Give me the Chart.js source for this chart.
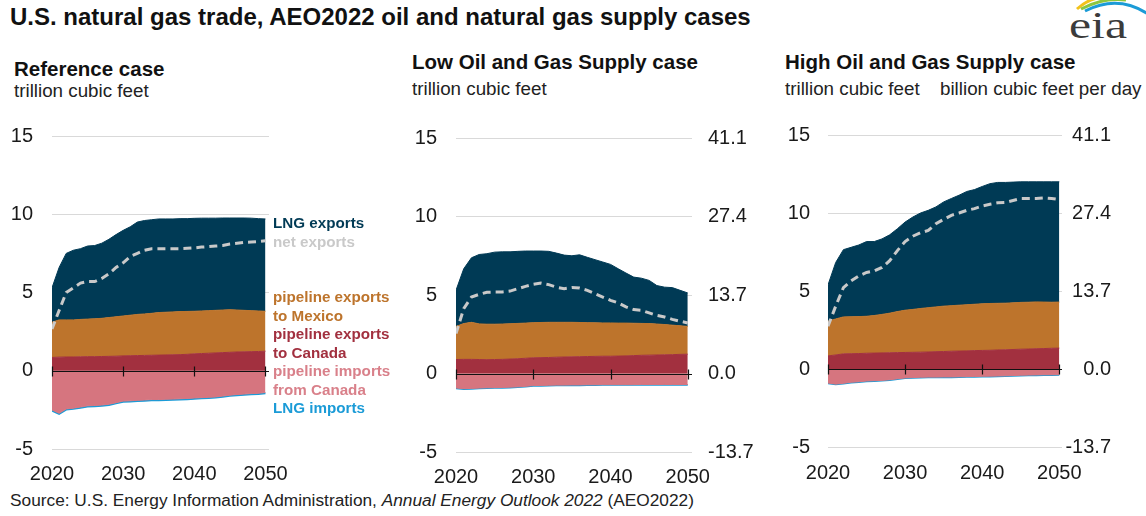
<!DOCTYPE html>
<html>
<head>
<meta charset="utf-8">
<script src="https://cdn.jsdelivr.net/npm/chart.js@4.4.1/dist/chart.umd.min.js"></script>
<style>
  html, body { margin: 0; padding: 0; background: #fff; }
  body { width: 1146px; height: 516px; position: relative; overflow: hidden; font-family: "Liberation Sans", Arial, sans-serif; color: #1a1a1a; }
  .abs { position: absolute; white-space: nowrap; }
  canvas { position: absolute; }
  #title { left: 10px; top: 3px; font-size: 24px; font-weight: bold; color: #111; }
  .ptitle { font-size: 20.5px; font-weight: bold; color: #111; }
  .punit { font-size: 18.8px; color: #222; }
  .leg { left: 273px; font-size: 15.2px; font-weight: bold; line-height: 18.6px; z-index: 5; }
  #source { left: 10px; top: 490px; font-size: 17.3px; color: #222; }
  #logo { left: 1062px; top: 0px; z-index: 5; }
</style>
</head>
<body>
<div id="title" class="abs">U.S. natural gas trade, AEO2022 oil and natural gas supply cases</div>

<div class="abs ptitle" style="left:14px; top:57px;">Reference case</div>
<div class="abs punit" style="left:14px; top:80px;">trillion cubic feet</div>
<div class="abs ptitle" style="left:412px; top:50px;">Low Oil and Gas Supply case</div>
<div class="abs punit" style="left:412px; top:78px;">trillion cubic feet</div>
<div class="abs ptitle" style="left:785px; top:50px;">High Oil and Gas Supply case</div>
<div class="abs punit" style="left:785px; top:78px;">trillion cubic feet</div>
<div class="abs punit" style="left:940px; top:78px;">billion cubic feet per day</div>

<div class="abs leg" style="top:214px; color:#003a55;">LNG exports</div>
<div class="abs leg" style="top:233px; color:#c9c9c9;">net exports</div>
<div class="abs leg" style="top:288px; color:#bd742c;">pipeline exports<br>to Mexico</div>
<div class="abs leg" style="top:325px; color:#a2303f;">pipeline exports<br>to Canada</div>
<div class="abs leg" style="top:362px; color:#d9808a;">pipeline imports<br>from Canada</div>
<div class="abs leg" style="top:399px; color:#1b9bd7;">LNG imports</div>

<div id="source" class="abs">Source: U.S. Energy Information Administration, <i>Annual Energy Outlook 2022</i> (AEO2022)</div>

<div id="logo" class="abs">
  <svg width="84" height="50" viewBox="0 0 84 50">
    <path d="M15 9 Q 25 0 36 -2" stroke="#f2c21b" stroke-width="3" fill="none"/>
    <path d="M19 9 Q 42 -3 64 0" stroke="#8cc63f" stroke-width="3" fill="none"/>
    <path d="M23 11 Q 56 -6 86 14" stroke="#1b9bd7" stroke-width="3" fill="none"/>
    <text x="7" y="38" font-family="Liberation Serif, DejaVu Serif, serif" font-size="38" fill="#3b3b3b" textLength="58" lengthAdjust="spacingAndGlyphs">eia</text>
  </svg>
</div>

<canvas id="c1" width="300" height="385" style="left:0px; top:105px;"></canvas>
<canvas id="c2" width="380" height="383" style="left:380px; top:107px;"></canvas>
<canvas id="c3" width="351" height="385" style="left:760px; top:105px;"></canvas>

<script>
// ---------------- data (trillion cubic feet) ----------------
const years = [2020,2021,2022,2023,2024,2025,2026,2027,2028,2029,2030,2031,2032,2033,2034,2035,2036,2037,2038,2039,2040,2041,2042,2043,2044,2045,2046,2047,2048,2049,2050];
const xTickValues = [2020, 2030, 2040, 2050];
const leftTickValues = [-5, 0, 5, 10, 15];
const rightTickLabels = ['-13.7', '0.0', '13.7', '27.4', '41.1'];

// Reference case
const refPipeCanada = [0.85,0.87,0.88,0.88,0.89,0.90,0.90,0.91,0.92,0.93,0.95,0.96,0.97,0.98,0.99,1.00,1.01,1.02,1.03,1.05,1.08,1.10,1.12,1.14,1.16,1.18,1.20,1.21,1.22,1.23,1.25];
const refPipeMexico = [2.25,2.38,2.37,2.37,2.39,2.40,2.42,2.44,2.48,2.52,2.55,2.59,2.63,2.65,2.68,2.72,2.73,2.74,2.75,2.74,2.72,2.72,2.72,2.72,2.72,2.72,2.68,2.65,2.62,2.59,2.55];
const refLngExports = [2.20,3.35,4.25,4.45,4.52,4.67,4.68,4.80,5.00,5.25,5.47,5.65,5.90,5.97,5.98,5.98,5.96,5.94,5.94,5.93,5.94,5.93,5.91,5.89,5.88,5.86,5.88,5.90,5.91,5.90,5.90];
const refPipeImports = [-2.50,-2.72,-2.44,-2.39,-2.32,-2.24,-2.22,-2.19,-2.14,-2.04,-1.94,-1.92,-1.89,-1.87,-1.84,-1.84,-1.82,-1.81,-1.79,-1.77,-1.74,-1.72,-1.70,-1.67,-1.62,-1.56,-1.52,-1.49,-1.46,-1.44,-1.39];
const refLngImports = [-0.06,-0.06,-0.06,-0.06,-0.06,-0.06,-0.06,-0.06,-0.06,-0.06,-0.06,-0.06,-0.06,-0.06,-0.06,-0.06,-0.06,-0.06,-0.06,-0.06,-0.06,-0.06,-0.06,-0.06,-0.06,-0.06,-0.06,-0.06,-0.06,-0.06,-0.06];
const refNetExports = [2.67,3.85,5.00,5.30,5.60,5.70,5.70,5.90,6.20,6.60,6.90,7.30,7.50,7.70,7.80,7.80,7.80,7.80,7.80,7.82,7.85,7.90,7.93,7.97,8.00,8.10,8.15,8.20,8.22,8.25,8.30];

// Low Oil and Gas Supply case
const lowPipeCanada = [0.89,0.90,0.90,0.89,0.88,0.89,0.90,0.92,0.94,0.97,1.00,1.01,1.02,1.04,1.05,1.06,1.07,1.08,1.09,1.10,1.10,1.11,1.12,1.14,1.16,1.17,1.18,1.19,1.20,1.22,1.23];
const lowPipeMexico = [2.11,2.28,2.36,2.27,2.26,2.25,2.25,2.25,2.25,2.24,2.24,2.24,2.24,2.22,2.21,2.20,2.18,2.16,2.14,2.12,2.12,2.10,2.09,2.06,2.03,2.01,1.97,1.93,1.88,1.82,1.77];
const lowLngExports = [2.30,3.49,4.11,4.42,4.49,4.59,4.60,4.58,4.59,4.59,4.56,4.55,4.52,4.41,4.28,4.24,4.31,4.16,4.02,3.88,3.73,3.46,3.19,2.94,2.88,2.75,2.45,2.38,2.39,2.26,2.13];
const lowPipeImports = [-0.92,-0.97,-0.95,-0.93,-0.91,-0.90,-0.89,-0.87,-0.85,-0.82,-0.77,-0.76,-0.75,-0.74,-0.74,-0.73,-0.73,-0.72,-0.72,-0.71,-0.71,-0.71,-0.71,-0.71,-0.70,-0.70,-0.70,-0.70,-0.70,-0.70,-0.70];
const lowLngImports = [-0.03,-0.03,-0.03,-0.03,-0.03,-0.03,-0.03,-0.03,-0.03,-0.03,-0.03,-0.03,-0.03,-0.03,-0.03,-0.03,-0.03,-0.03,-0.03,-0.03,-0.03,-0.03,-0.03,-0.03,-0.03,-0.03,-0.03,-0.03,-0.03,-0.03,-0.03];
const lowNetExports = [2.54,4.13,4.87,5.04,5.17,5.19,5.19,5.25,5.40,5.55,5.68,5.76,5.66,5.50,5.40,5.47,5.44,5.30,5.08,4.87,4.66,4.50,4.24,4.07,4.03,3.86,3.70,3.60,3.45,3.33,3.22];

// High Oil and Gas Supply case
const highPipeCanada = [0.84,0.90,0.97,0.98,0.99,1.01,1.02,1.03,1.04,1.05,1.06,1.07,1.08,1.09,1.11,1.12,1.14,1.15,1.16,1.18,1.19,1.20,1.22,1.23,1.25,1.27,1.28,1.30,1.31,1.33,1.34];
const highPipeMexico = [2.22,2.31,2.37,2.37,2.37,2.37,2.41,2.47,2.54,2.63,2.71,2.75,2.80,2.84,2.87,2.91,2.92,2.94,2.96,2.97,2.99,3.00,2.99,2.99,2.99,3.00,3.00,3.00,2.98,2.95,2.95];
const highLngExports = [2.33,3.62,4.31,4.45,4.59,4.79,4.74,4.84,5.02,5.31,5.65,5.92,6.12,6.24,6.41,6.68,6.87,7.05,7.26,7.35,7.52,7.68,7.75,7.74,7.74,7.73,7.72,7.70,7.71,7.72,7.71];
const highPipeImports = [-0.90,-0.97,-0.92,-0.85,-0.82,-0.77,-0.75,-0.73,-0.69,-0.63,-0.57,-0.55,-0.53,-0.52,-0.52,-0.51,-0.51,-0.50,-0.49,-0.48,-0.47,-0.46,-0.45,-0.44,-0.42,-0.40,-0.39,-0.38,-0.37,-0.37,-0.36];
const highLngImports = [-0.03,-0.03,-0.03,-0.03,-0.03,-0.03,-0.03,-0.03,-0.03,-0.03,-0.03,-0.03,-0.03,-0.03,-0.03,-0.03,-0.03,-0.03,-0.03,-0.03,-0.03,-0.03,-0.03,-0.03,-0.03,-0.03,-0.03,-0.03,-0.03,-0.03,-0.03];
const highNetExports = [2.74,4.03,5.22,5.65,5.97,6.19,6.29,6.51,6.94,7.59,8.17,8.51,8.73,8.88,9.31,9.59,9.85,10.00,10.17,10.28,10.45,10.56,10.65,10.67,10.80,10.93,10.93,10.93,10.97,10.93,10.86];

// ---------------- styling ----------------
const COL = {
  canada: '#a2303f',
  mexico: '#bd742c',
  lng: '#003a55',
  imports: '#d6757f',
  lngImp: '#1b9bd7',
  net: '#c9c9c9'
};
const TCF_TO_BCFD = 1000 / 365;
const TICK_FONT = { family: '"Liberation Sans", Arial, sans-serif', size: 20 };

const pts = arr => years.map((y, i) => ({ x: y, y: arr[i] }));

const zeroLinePlugin = {
  id: 'zeroLine',
  afterDatasetsDraw(chart) {
    const { ctx, chartArea, scales } = chart;
    const y0 = Math.round(scales.y.getPixelForValue(0)) + 0.5;
    ctx.save();
    ctx.strokeStyle = '#111';
    ctx.lineWidth = 1.2;
    ctx.beginPath();
    ctx.moveTo(chartArea.left, y0);
    ctx.lineTo(chartArea.right, y0);
    xTickValues.forEach(v => {
      const x = Math.round(scales.x.getPixelForValue(v)) + 0.5;
      ctx.moveTo(x, y0 - 5);
      ctx.lineTo(x, y0 + 5);
    });
    ctx.stroke();
    ctx.restore();
  }
};

function makeChart(id, d, L) {
  const area = (label, data, color, fill, stack) => ({
    label, data: pts(data), backgroundColor: color, borderColor: color,
    borderWidth: 1, fill, stack, pointRadius: 0, tension: 0, order: 1
  });
  const datasets = [
    area('pipeline exports to Canada', d.canada, COL.canada, 'origin', 'exp'),
    area('pipeline exports to Mexico', d.mexico, COL.mexico, '-1', 'exp'),
    area('LNG exports', d.lng, COL.lng, '-1', 'exp'),
    area('pipeline imports from Canada', d.imports, COL.imports, 'origin', 'imp'),
    Object.assign(area('LNG imports', d.lngImp, COL.lngImp, '-1', 'imp'), { borderWidth: 1.5 }),
    {
      label: 'net exports', data: pts(d.net), borderColor: COL.net, backgroundColor: COL.net,
      borderWidth: 3, borderDash: [8, 5], fill: false, stack: 'net', pointRadius: 0, tension: 0, order: 0
    }
  ];
  const scales = {
    x: {
      type: 'linear', min: 2020, max: L.xMax,
      grid: { display: false }, border: { display: false },
      afterBuildTicks: s => { s.ticks = xTickValues.map(v => ({ value: v })); },
      ticks: { font: TICK_FONT, color: '#1a1a1a', padding: L.xPad, maxRotation: 0, autoSkip: false, callback: v => String(v) },
      afterFit: s => { s.height = L.xH; }
    },
    y: {
      stacked: true, min: -5, max: 15, position: 'left',
      grid: { color: c => (c.tick && c.tick.value === 0) ? 'rgba(0,0,0,0)' : '#d9d9d9', drawTicks: false, lineWidth: 1 },
      border: { display: false },
      afterBuildTicks: s => { s.ticks = leftTickValues.map(v => ({ value: v })); },
      ticks: { font: TICK_FONT, color: '#1a1a1a', padding: L.yPad, callback: v => String(v) },
      afterFit: s => { s.width = L.yW; }
    }
  };
  if (L.right) {
    scales.y2 = {
      position: 'right', min: -5 * TCF_TO_BCFD, max: 15 * TCF_TO_BCFD,
      grid: { display: false, drawTicks: false }, border: { display: false },
      afterBuildTicks: s => { s.ticks = leftTickValues.map(v => ({ value: v * TCF_TO_BCFD })); },
      ticks: { font: TICK_FONT, color: '#1a1a1a', padding: L.y2Pad, crossAlign: L.y2Align,
               callback: (v, i) => rightTickLabels[i] },
      afterFit: s => { s.width = L.y2W; }
    };
  }
  return new Chart(document.getElementById(id), {
    type: 'line',
    data: { datasets },
    options: {
      responsive: false, animation: false,
      layout: { padding: { top: 0, right: L.padRight, bottom: 0, left: 0 } },
      plugins: { legend: { display: false }, tooltip: { enabled: false } },
      scales
    },
    plugins: [zeroLinePlugin]
  });
}

makeChart('c1', { canada: refPipeCanada, mexico: refPipeMexico, lng: refLngExports, imports: refPipeImports, lngImp: refLngImports, net: refNetExports },
  { xMax: 2050.5, xH: 41, xPad: 5, yW: 52, yPad: 19, padRight: 31, right: false });
makeChart('c2', { canada: lowPipeCanada, mexico: lowPipeMexico, lng: lowLngExports, imports: lowPipeImports, lngImp: lowLngImports, net: lowNetExports },
  { xMax: 2050.55, xH: 38, xPad: 5, yW: 76, yPad: 19, padRight: 0, right: true, y2W: 68, y2Pad: 16, y2Align: 'near' });
makeChart('c3', { canada: highPipeCanada, mexico: highPipeMexico, lng: highLngExports, imports: highPipeImports, lngImp: highLngImports, net: highNetExports },
  { xMax: 2050.35, xH: 43, xPad: 6, yW: 68, yPad: 18, padRight: 0, right: true, y2W: 49, y2Pad: 10, y2Align: 'far' });
</script>
</body>
</html>
